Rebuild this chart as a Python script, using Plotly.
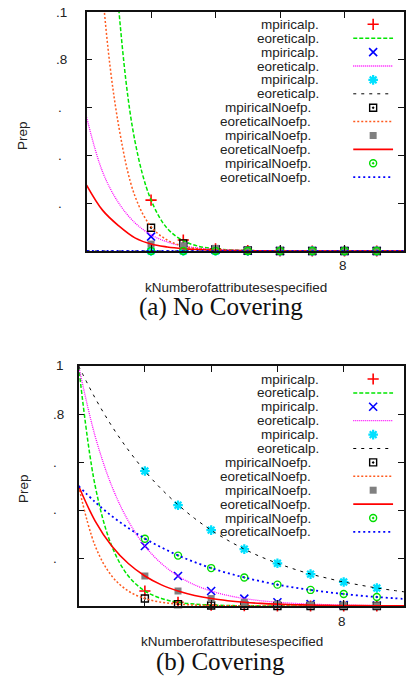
import plotly.graph_objects as go

W, H = 406, 677

# ---------------- data ----------------
k_emp = [2, 3, 4, 5, 6, 7, 8, 9]
k_th = [0, 0.5, 1, 1.5, 2, 2.5, 3, 3.5, 4, 4.5, 5, 5.5, 6, 6.5, 7, 7.5, 8, 8.5, 9, 9.5, 10]

labels = ["mpiricalp.", "eoreticalp.", "mpiricalp.", "eoreticalp.", "mpiricalp.", "eoreticalp.",
          "mpiricalNoefp.", "eoreticalNoefp.", "mpiricalNoefp.", "eoreticalNoefp.",
          "mpiricalNoefp.", "eoreticalNoefp."]

# (a) No Covering
a_emp_p1 = [0.0213, 0.0046, 0.0009, 0.0002, 0, 0, 0, 0]
a_th_p1 = [0.49, 0.22, 0.101, 0.046, 0.0213, 0.0095, 0.0043, 0.0019, 0.0009, 0.0004, 0.0002,
           0.0001, 0.00004, 0.00002, 0.00001, 0, 0, 0, 0, 0, 0]
a_emp_p2 = [0.006, 0.0018, 0.0005, 0.0001, 0, 0, 0, 0]
a_th_p2 = [0.056, 0.033, 0.020, 0.0118, 0.0068, 0.0038, 0.0021, 0.0012, 0.0007, 0.0004, 0.0002,
           0.0001, 0.00006, 0.00003, 0.00002, 0.00001, 0, 0, 0, 0, 0]
a_emp_p3 = [0, 0, 0, 0, 0, 0, 0, 0]
a_th_p3 = [0, 0, 0, 0, 0, 0, 0, 0, 0, 0, 0, 0, 0, 0, 0, 0, 0, 0, 0, 0, 0]
a_emp_n1 = [0.0097, 0.0032, 0.0008, 0.0002, 0, 0, 0, 0]
a_th_n1 = [0.24, 0.108, 0.052, 0.023, 0.0102, 0.0046, 0.002, 0.0009, 0.0004, 0.0002, 0.0001,
           0.00004, 0.00002, 0.00001, 0, 0, 0, 0, 0, 0, 0]
a_emp_n2 = [0.0029, 0.0022, 0.0011, 0.0004, 0.0001, 0, 0, 0]
a_th_n2 = [0.0276, 0.017, 0.0105, 0.0055, 0.0029, 0.0017, 0.001, 0.0006, 0.0003, 0.0002, 0.0001,
           0.00005, 0.00002, 0.00001, 0, 0, 0, 0, 0, 0, 0]
a_emp_n3 = [0, 0, 0, 0, 0, 0, 0, 0]
a_th_n3 = [0, 0, 0, 0, 0, 0, 0, 0, 0, 0, 0, 0, 0, 0, 0, 0, 0, 0, 0, 0, 0]

# (b) Covering
b_emp_p1 = [0.0625, 0.0156, 0.0039, 0.001, 0.0002, 0.0001, 0, 0]
b_th_p1 = [1, 0.5, 0.25, 0.125, 0.0625, 0.0313, 0.0156, 0.0078, 0.0039, 0.002, 0.001,
           0.0005, 0.0002, 0.0001, 0.00006, 0.00003, 0.00002, 0.00001, 0, 0, 0]
b_emp_p2 = [0.25, 0.125, 0.0625, 0.031, 0.0156, 0.0078, 0.0039, 0.002]
b_th_p2 = [1, 0.707, 0.5, 0.354, 0.25, 0.177, 0.125, 0.088, 0.0625, 0.044, 0.031,
           0.022, 0.0156, 0.011, 0.0078, 0.0055, 0.0039, 0.0028, 0.002, 0.0014, 0.001]
b_emp_p3 = [0.5625, 0.42, 0.316, 0.237, 0.178, 0.133, 0.1, 0.075]
b_th_p3 = [1, 0.866, 0.75, 0.65, 0.5625, 0.487, 0.422, 0.365, 0.316, 0.274, 0.237,
           0.205, 0.178, 0.154, 0.133, 0.116, 0.1, 0.087, 0.075, 0.065, 0.056]
b_emp_n1 = [0.031, 0.0078, 0.002, 0.0005, 0.0001, 0, 0, 0]
b_th_n1 = [0.5, 0.25, 0.125, 0.0625, 0.0313, 0.0156, 0.0078, 0.0039, 0.002, 0.001, 0.0005,
           0.0002, 0.0001, 0.00006, 0.00003, 0.00002, 0.00001, 0, 0, 0, 0]
b_emp_n2 = [0.125, 0.0625, 0.031, 0.0156, 0.0078, 0.0039, 0.002, 0.001]
b_th_n2 = [0.5, 0.354, 0.25, 0.177, 0.125, 0.088, 0.0625, 0.044, 0.031, 0.022, 0.0156,
           0.011, 0.0078, 0.0055, 0.0039, 0.0028, 0.002, 0.0014, 0.001, 0.0007, 0.0005]
b_emp_n3 = [0.28, 0.21, 0.158, 0.119, 0.089, 0.067, 0.05, 0.0375]
b_th_n3 = [0.5, 0.433, 0.375, 0.325, 0.281, 0.244, 0.211, 0.183, 0.158, 0.137, 0.119,
           0.103, 0.089, 0.077, 0.067, 0.058, 0.05, 0.043, 0.0375, 0.0325, 0.028]

a_series = [a_emp_p1, a_th_p1, a_emp_p2, a_th_p2, a_emp_p3, a_th_p3,
            a_emp_n1, a_th_n1, a_emp_n2, a_th_n2, a_emp_n3, a_th_n3]
b_series = [b_emp_p1, b_th_p1, b_emp_p2, b_th_p2, b_emp_p3, b_th_p3,
            b_emp_n1, b_th_n1, b_emp_n2, b_th_n2, b_emp_n3, b_th_n3]

a_ytick_vals = [0.1, 0.08, 0.06, 0.04, 0.02]
a_ytick_text = [".1", ".8", ".", ".", "."]
b_ytick_vals = [1, 0.8, 0.6, 0.4, 0.2]
b_ytick_text = ["1", ".8", ".", ".", "."]
x_tick_vals = [2, 4, 6, 8, 10]
x_label_val = 8
x_label_text = "8"

# ---------------- styles ----------------
styles = [
    dict(kind="m", symbol="cross-thin", color="#ff0000", size=8, lw=1.6),
    dict(kind="l", color="#00e600", dash="4px,2px", width=1.5),
    dict(kind="m", symbol="x-thin", color="#0000ff", size=8, lw=1.6),
    dict(kind="l", color="#ff00ff", dash="1px,1px", width=1.3),
    dict(kind="m", symbol="asterisk", color="#00e0ff", size=8, lw=2.2),
    dict(kind="l", color="#000000", dash="3px,5px", width=1.0),
    dict(kind="m", symbol="square-open-dot", color="#000000", size=7, lw=1.4),
    dict(kind="l", color="#ff5a1e", dash="2px,2px", width=1.5),
    dict(kind="m", symbol="square", color="#808080", size=7, lw=0),
    dict(kind="l", color="#ff0000", dash="solid", width=1.6),
    dict(kind="m", symbol="circle-open-dot", color="#00dd00", size=7, lw=1.4),
    dict(kind="l", color="#0000ff", dash="2px,3px", width=1.8),
]

FONT = "Liberation Sans"
TXT = "#222222"
FS = 13.5

# pixel geometry of the two panels
A_LEFT, A_TOP, A_BOT, A_UNIT = 87, 12, 251, 32.4
B_LEFT, B_TOP, B_BOT, B_UNIT = 79, 366, 606, 33.3

fig = go.Figure()


def add_panel(series, xa, ya):
    for st, ys in zip(styles, series):
        if st["kind"] == "m":
            fig.add_trace(go.Scatter(
                x=k_emp, y=ys, mode="markers", xaxis=xa, yaxis=ya, cliponaxis=False,
                marker=dict(symbol=st["symbol"], size=st["size"], color=st["color"],
                            line=dict(color=st["color"], width=st["lw"])),
                showlegend=False, hoverinfo="skip"))
        else:
            fig.add_trace(go.Scatter(
                x=k_th, y=ys, mode="lines", xaxis=xa, yaxis=ya,
                line=dict(color=st["color"], dash=st["dash"], width=st["width"], shape="spline"),
                showlegend=False, hoverinfo="skip"))


add_panel(a_series, "x", "y")
add_panel(b_series, "x2", "y2")

# ---------------- custom legends (overlay axes in pixel units) ----------------
LEG_X0, LEG_X1, LEG_DY = 355, 395, 13.9
annotations = []
for row0 in (24.3, 379):
    for i, (st, lab) in enumerate(zip(styles, labels)):
        yy = row0 + i * LEG_DY
        txt_r = 315 if "Noe" in lab else 323
        annotations.append(dict(x=txt_r / W, y=1 - yy / H, xref="paper", yref="paper",
                                text=lab, showarrow=False, xanchor="right", yanchor="middle",
                                font=dict(family=FONT, size=FS, color=TXT)))
        if st["kind"] == "m":
            fig.add_trace(go.Scatter(
                x=[(LEG_X0 + LEG_X1) / 2], y=[yy], mode="markers", xaxis="x3", yaxis="y3",
                marker=dict(symbol=st["symbol"], size=st["size"], color=st["color"],
                            line=dict(color=st["color"], width=st["lw"])),
                showlegend=False, hoverinfo="skip"))
        else:
            fig.add_trace(go.Scatter(
                x=[LEG_X0, LEG_X1], y=[yy, yy], mode="lines", xaxis="x3", yaxis="y3",
                line=dict(color=st["color"], dash=st["dash"], width=st["width"]),
                showlegend=False, hoverinfo="skip"))

# y tick labels (as annotations, right aligned)
def ytick_annots(vals, texts, top, bot, vmax, right_main, right_dot):
    for v, t in zip(vals, texts):
        py = bot - (bot - top) * v / vmax
        xr = right_dot if t == "." else right_main
        annotations.append(dict(x=xr / W, y=1 - py / H, xref="paper", yref="paper", text=t,
                                showarrow=False, xanchor="right", yanchor="middle",
                                font=dict(family=FONT, size=FS, color=TXT)))


ytick_annots(a_ytick_vals, a_ytick_text, A_TOP, A_BOT, 0.1, 69, 64)
ytick_annots(b_ytick_vals, b_ytick_text, B_TOP, B_BOT, 1.0, 66, 59)

# x tick label "8"
for left, unit, bot in ((A_LEFT, A_UNIT, A_BOT), (B_LEFT, B_UNIT, B_BOT)):
    px = left + unit * x_label_val - 2
    annotations.append(dict(x=px / W, y=1 - (bot + 15) / H, xref="paper", yref="paper",
                            text=x_label_text, showarrow=False, xanchor="center", yanchor="middle",
                            font=dict(family=FONT, size=FS, color=TXT)))

# axis titles
for (xc, yc) in ((237.5, 287), (233, 641)):
    annotations.append(dict(x=xc / W, y=1 - yc / H, xref="paper", yref="paper",
                            text="kNumberofattributesespecified", showarrow=False,
                            xanchor="center", yanchor="middle",
                            font=dict(family=FONT, size=FS, color=TXT)))
for (xc, yc) in ((23, 135), (23, 488)):
    annotations.append(dict(x=xc / W, y=1 - yc / H, xref="paper", yref="paper",
                            text="Prep", showarrow=False, textangle=-90,
                            xanchor="center", yanchor="middle",
                            font=dict(family=FONT, size=FS, color=TXT)))

# captions
for (txt, xc, yc) in (("(a) No Covering", 222, 307), ("(b) Covering", 222, 662)):
    annotations.append(dict(x=xc / W, y=1 - yc / H, xref="paper", yref="paper",
                            text=txt, showarrow=False, xanchor="center", yanchor="middle",
                            font=dict(family="Liberation Serif", size=25, color="#111111")))

axis_common = dict(showline=True, linecolor="#111111", linewidth=1.5, mirror="ticks",
                   ticks="inside", ticklen=6, tickcolor="#111111", tickwidth=1.2,
                   showgrid=False, zeroline=False, showticklabels=False, fixedrange=True)

fig.update_layout(
    width=W, height=H, autosize=False,
    margin=dict(l=0, r=0, t=0, b=0, pad=0),
    paper_bgcolor="white", plot_bgcolor="rgba(0,0,0,0)",
    showlegend=False,
    xaxis=dict(domain=[A_LEFT / W, 1], anchor="y",
               range=[0, (W - A_LEFT) / A_UNIT], tickvals=x_tick_vals, **axis_common),
    yaxis=dict(domain=[1 - A_BOT / H, 1 - A_TOP / H], anchor="x",
               range=[0, 0.1], tickvals=a_ytick_vals, **axis_common),
    xaxis2=dict(domain=[B_LEFT / W, 1], anchor="y2",
                range=[0, (W - B_LEFT) / B_UNIT], tickvals=x_tick_vals, **axis_common),
    yaxis2=dict(domain=[1 - B_BOT / H, 1 - B_TOP / H], anchor="x2",
                range=[0, 1], tickvals=b_ytick_vals, **axis_common),
    xaxis3=dict(domain=[0, 1], anchor="y3", range=[0, W], visible=False, fixedrange=True),
    yaxis3=dict(domain=[0, 1], anchor="x3", range=[H, 0], visible=False, fixedrange=True),
    annotations=annotations,
)

fig.write_html("out.html", config={"displayModeBar": False})
